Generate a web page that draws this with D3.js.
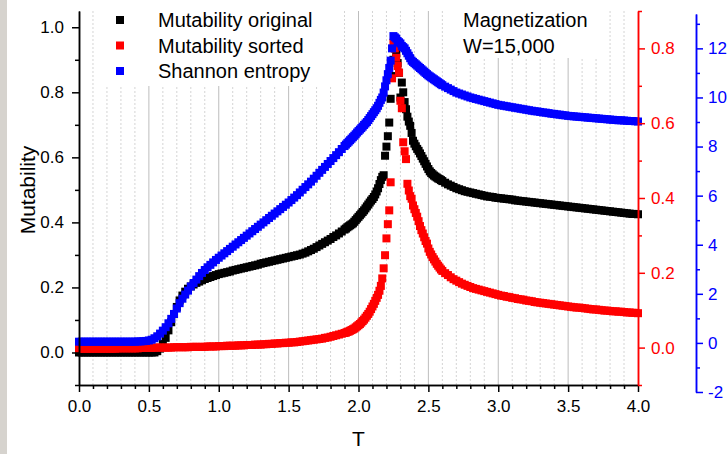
<!DOCTYPE html>
<html>
<head>
<meta charset="utf-8">
<script src="https://cdn.jsdelivr.net/npm/d3@7"></script>
<style>
  html, body { margin: 0; padding: 0; background: #fff; }
  svg { display: block; font-family: "Liberation Sans", Arial, sans-serif; }
</style>
</head>
<body>
<svg id="chart" width="728" height="454"></svg>
<script>
// Temperature grid: coarse away from the transition, fine around it
const T = [].concat(
  d3.range(0, 190, 2).map(k => k / 100),
  d3.range(190, 261, 1).map(k => k / 100),
  d3.range(262, 401, 2).map(k => k / 100)
);

// Mutability of the original sequence (left axis)
const mutOriginal = [
  0,0,0,0,0,0,0,0,0,0,
  0,0,0,0,0,0,0,0,0,0,
  0,0,0,0,0,0,0,0,0.004,0.012,
  0.026,0.045,0.068,0.093,0.118,0.140,0.160,0.175,0.187,0.196,
  0.203,0.209,0.214,0.218,0.222,0.226,0.229,0.232,0.235,0.238,
  0.241,0.243,0.245,0.247,0.249,0.252,0.254,0.256,0.258,0.260,
  0.262,0.264,0.266,0.268,0.270,0.273,0.275,0.277,0.279,0.281,
  0.283,0.285,0.287,0.289,0.291,0.293,0.295,0.297,0.299,0.301,
  0.304,0.307,0.311,0.315,0.319,0.324,0.329,0.334,0.339,0.344,
  0.349,0.355,0.360,0.366,0.372,
  0.378,0.381,0.385,0.388,0.391,0.394,0.397,0.402,0.407,0.412,
  0.417,0.422,0.427,0.432,0.437,0.443,0.449,0.455,0.461,0.467,
  0.472,0.478,0.486,0.495,0.505,0.518,0.530,0.540,0.545,0.605,
  0.633,0.665,0.707,0.78,0.85,0.90,0.935,0.92,0.89,0.86,
  0.784,0.83,0.80,0.77,0.748,0.725,0.71,0.697,0.675,0.651,
  0.642,0.634,0.626,0.62,0.612,0.604,0.596,0.588,0.58,0.572,
  0.564,0.557,0.552,0.548,0.544,0.541,0.538,0.535,0.533,0.530,
  0.527,
  0.522,0.517,0.513,0.509,0.505,0.502,0.499,0.496,0.494,0.492,
  0.490,0.488,0.486,0.484,0.482,0.480,0.479,0.478,0.476,0.475,
  0.474,0.473,0.472,0.471,0.470,0.468,0.467,0.466,0.465,0.464,
  0.463,0.462,0.461,0.460,0.459,0.458,0.457,0.456,0.455,0.454,
  0.453,0.452,0.451,0.450,0.449,0.448,0.447,0.446,0.445,0.444,
  0.443,0.442,0.441,0.440,0.439,0.438,0.437,0.436,0.435,0.434,
  0.433,0.432,0.431,0.430,0.429,0.428,0.427,0.426,0.426,0.425
];

// Mutability of the sorted sequence (red axis)
const mutSorted = [
  -0.003,-0.003,-0.003,-0.003,-0.003,-0.003,-0.003,-0.003,-0.003,-0.003,
  -0.003,-0.003,-0.003,-0.003,-0.002,-0.002,-0.002,-0.002,-0.002,-0.002,
  -0.002,-0.002,-0.001,-0.001,-0.001,-0.001,-0.001,0,0,0,
  0,0,0,0,0.001,0.001,0.001,0.001,0.001,0.001,
  0.002,0.002,0.002,0.002,0.002,0.002,0.003,0.003,0.003,0.003,
  0.004,0.004,0.004,0.005,0.005,0.005,0.005,0.006,0.006,0.006,
  0.007,0.007,0.007,0.008,0.008,0.008,0.009,0.009,0.010,0.010,
  0.011,0.011,0.012,0.012,0.013,0.013,0.014,0.014,0.015,0.016,
  0.017,0.018,0.019,0.020,0.021,0.022,0.023,0.024,0.026,0.027,
  0.029,0.031,0.033,0.035,0.037,
  0.039,0.040,0.042,0.043,0.045,0.047,0.049,0.051,0.054,0.057,
  0.060,0.063,0.067,0.071,0.075,0.080,0.085,0.090,0.096,0.103,
  0.110,0.117,0.125,0.133,0.141,0.152,0.165,0.185,0.212,0.247,
  0.292,0.33,0.367,0.442,0.72,0.815,0.80,0.775,0.753,0.735,
  0.66,0.64,0.549,0.525,0.504,0.438,0.42,0.405,0.398,0.38,
  0.37,0.36,0.35,0.338,0.325,0.314,0.305,0.295,0.285,0.278,
  0.265,0.256,0.249,0.242,0.236,0.230,0.224,0.219,0.214,0.209,
  0.205,
  0.199,0.194,0.188,0.183,0.179,0.175,0.171,0.168,0.165,0.162,
  0.159,0.157,0.155,0.153,0.151,0.149,0.147,0.145,0.143,0.141,
  0.139,0.138,0.136,0.135,0.133,0.132,0.130,0.129,0.128,0.126,
  0.125,0.124,0.122,0.121,0.120,0.119,0.118,0.117,0.116,0.115,
  0.114,0.113,0.112,0.111,0.110,0.109,0.108,0.107,0.107,0.106,
  0.105,0.104,0.103,0.102,0.102,0.101,0.100,0.099,0.099,0.098,
  0.097,0.097,0.096,0.096,0.095,0.094,0.094,0.093,0.093,0.092
];

// Shannon entropy (blue axis)
const shannon = [
  0.05,0.05,0.05,0.05,0.05,0.05,0.05,0.05,0.05,0.05,
  0.05,0.05,0.05,0.05,0.05,0.05,0.05,0.05,0.05,0.05,
  0.05,0.06,0.06,0.07,0.08,0.10,0.13,0.19,0.27,0.38,
  0.50,0.64,0.80,0.98,1.18,1.40,1.62,1.80,1.97,2.13,
  2.30,2.44,2.58,2.72,2.85,2.97,3.08,3.18,3.28,3.38,
  3.47,3.56,3.65,3.74,3.83,3.92,4.01,4.10,4.19,4.28,
  4.37,4.46,4.55,4.64,4.73,4.82,4.91,5.00,5.09,5.18,
  5.27,5.36,5.45,5.54,5.63,5.72,5.82,5.92,6.02,6.13,
  6.24,6.35,6.46,6.57,6.69,6.81,6.93,7.05,7.17,7.29,
  7.41,7.53,7.65,7.77,7.90,
  8.02,8.08,8.14,8.20,8.26,8.32,8.38,8.44,8.50,8.57,
  8.63,8.69,8.75,8.81,8.88,8.94,9.00,9.08,9.16,9.24,
  9.32,9.40,9.48,9.56,9.66,9.78,9.90,10.00,10.20,10.45,
  10.70,10.95,11.20,11.50,12.00,12.50,12.45,12.40,12.30,12.25,
  12.20,12.10,12.05,12.00,11.90,11.80,11.70,11.60,11.50,11.45,
  11.40,11.35,11.30,11.25,11.20,11.15,11.10,11.05,11.00,10.95,
  10.90,10.86,10.82,10.78,10.74,10.70,10.66,10.62,10.58,10.54,
  10.50,
  10.44,10.38,10.32,10.26,10.20,10.16,10.12,10.08,10.04,10.00,
  9.97,9.94,9.91,9.88,9.85,9.82,9.79,9.76,9.73,9.70,
  9.68,9.66,9.64,9.62,9.60,9.58,9.56,9.54,9.52,9.50,
  9.48,9.46,9.44,9.43,9.41,9.39,9.38,9.36,9.34,9.33,
  9.31,9.30,9.28,9.27,9.25,9.24,9.23,9.22,9.21,9.20,
  9.19,9.18,9.17,9.16,9.15,9.14,9.13,9.12,9.11,9.10,
  9.09,9.08,9.07,9.07,9.06,9.05,9.04,9.04,9.03,9.02
];

const xMajor = [0, 0.5, 1, 1.5, 2, 2.5, 3, 3.5, 4];
const leftMajor = [0, 0.2, 0.4, 0.6, 0.8, 1.0];
const redMajor = [0, 0.2, 0.4, 0.6, 0.8];
const blueMajor = [-2, 0, 2, 4, 6, 8, 10, 12];
const legendLabels = ["Mutability original", "Mutability sorted", "Shannon entropy"];
const noteLines = ["Magnetization", "W=15,000"];

const svg = d3.select("#chart");
const FONT = '"Liberation Sans", Arial, sans-serif';

const x = d3.scaleLinear().domain([0, 4]).range([79, 638]);
const yL = d3.scaleLinear().domain([-0.1, 1.05]).range([385, 11]);
const yR = d3.scaleLinear().domain([-0.1, 0.9]).range([385, 11]);
const yB = d3.scaleLinear().domain([-2, 13.4]).range([392, 14]);

const plotTop = 11, plotBottom = 385;

// grey strip at the left edge
svg.append("rect").attr("x", 0).attr("y", 0).attr("width", 7).attr("height", 454).attr("fill", "#d6d3ce");

// vertical grid: dotted every 0.1, solid every 0.5
const minorX = d3.range(1, 40).map(k => k / 10).filter(v => Math.abs(v * 2 - Math.round(v * 2)) > 1e-6);
svg.append("g").selectAll("line").data(minorX).join("line")
  .attr("x1", d => x(d)).attr("x2", d => x(d))
  .attr("y1", plotTop).attr("y2", plotBottom)
  .attr("stroke", "#d4d4d4").attr("stroke-width", 1).attr("stroke-dasharray", "2,2");
svg.append("g").selectAll("line").data(xMajor.filter(v => v > 0 && v < 4)).join("line")
  .attr("x1", d => x(d)).attr("x2", d => x(d))
  .attr("y1", plotTop).attr("y2", plotBottom)
  .attr("stroke", "#bdbdbd").attr("stroke-width", 1);

// white panels behind the legend and the note
svg.append("rect").attr("x", 100).attr("y", plotTop).attr("width", 235).attr("height", 75).attr("fill", "#fff");
svg.append("rect").attr("x", 452).attr("y", plotTop).attr("width", 148).attr("height", 47).attr("fill", "#fff");

// series markers
function drawSeries(values, yScale, color) {
  const pts = T.map((t, i) => ({ t, v: values[i] }));
  svg.append("g").selectAll("rect").data(pts).join("rect")
    .attr("x", d => x(d.t) - 4).attr("y", d => yScale(d.v) - 4)
    .attr("width", 8).attr("height", 8).attr("fill", color);
}
drawSeries(mutOriginal, yL, "#000000");
drawSeries(mutSorted, yR, "#ff0000");
drawSeries(shannon, yB, "#0000ff");

// axes
function styleAxis(g, color, fontSize) {
  g.select(".domain").attr("stroke", color).attr("stroke-width", 1.5);
  g.selectAll(".tick line").attr("stroke", color).attr("stroke-width", 1.5);
  g.selectAll(".tick text").attr("fill", color).attr("font-size", fontSize).attr("font-family", FONT);
}

const gxm = svg.append("g").attr("transform", `translate(0,${plotBottom})`)
  .call(d3.axisBottom(x).tickValues(minorX).tickSize(4).tickFormat("").tickSizeOuter(0));
styleAxis(gxm, "#000", 17);
const gx = svg.append("g").attr("transform", `translate(0,${plotBottom})`)
  .call(d3.axisBottom(x).tickValues(xMajor).tickSize(7).tickPadding(8).tickFormat(d3.format(".1f")).tickSizeOuter(0));
styleAxis(gx, "#000", 17);

const leftMinor = [-0.1, 0.1, 0.3, 0.5, 0.7, 0.9];
const gym = svg.append("g").attr("transform", `translate(${x(0)},0)`)
  .call(d3.axisLeft(yL).tickValues(leftMinor).tickSize(4).tickFormat("").tickSizeOuter(0));
styleAxis(gym, "#000", 17);
const gy = svg.append("g").attr("transform", `translate(${x(0)},0)`)
  .call(d3.axisLeft(yL).tickValues(leftMajor).tickSize(7).tickPadding(8).tickFormat(d3.format(".1f")).tickSizeOuter(0));
styleAxis(gy, "#000", 17);

const redMinor = [-0.1, 0.1, 0.3, 0.5, 0.7, 0.9];
const grm = svg.append("g").attr("transform", `translate(${x(4)},0)`)
  .call(d3.axisRight(yR).tickValues(redMinor).tickSize(4).tickFormat("").tickSizeOuter(0));
styleAxis(grm, "#ff0000", 17);
const gr = svg.append("g").attr("transform", `translate(${x(4)},0)`)
  .call(d3.axisRight(yR).tickValues(redMajor).tickSize(7).tickPadding(6).tickFormat(d3.format(".1f")).tickSizeOuter(0));
styleAxis(gr, "#ff0000", 17);

const blueMinor = [-1, 1, 3, 5, 7, 9, 11, 13];
const gbm = svg.append("g").attr("transform", "translate(696,0)")
  .call(d3.axisRight(yB).tickValues(blueMinor).tickSize(4).tickFormat("").tickSizeOuter(0));
styleAxis(gbm, "#0000ff", 17);
const gb = svg.append("g").attr("transform", "translate(696,0)")
  .call(d3.axisRight(yB).tickValues(blueMajor).tickSize(7).tickPadding(5).tickFormat(d => String(d)).tickSizeOuter(0));
styleAxis(gb, "#0000ff", 17);

// axis titles
svg.append("text").attr("transform", "translate(35,190) rotate(-90)")
  .attr("text-anchor", "middle").attr("font-size", 21).attr("font-family", FONT).text("Mutability");
svg.append("text").attr("x", x(2)).attr("y", 446)
  .attr("text-anchor", "middle").attr("font-size", 21).attr("font-family", FONT).text("T");

// legend
const legendColors = ["#000000", "#ff0000", "#0000ff"];
legendLabels.forEach((lab, i) => {
  const cy = 20 + i * 25.5;
  svg.append("rect").attr("x", 116).attr("y", cy - 4).attr("width", 8).attr("height", 8).attr("fill", legendColors[i]);
  svg.append("text").attr("x", 158).attr("y", cy + 7).attr("font-size", 20).attr("font-family", FONT).text(lab);
});

// note
noteLines.forEach((t, i) => {
  svg.append("text").attr("x", 463).attr("y", 27 + i * 25.5).attr("font-size", 20).attr("font-family", FONT).text(t);
});
</script>
</body>
</html>
